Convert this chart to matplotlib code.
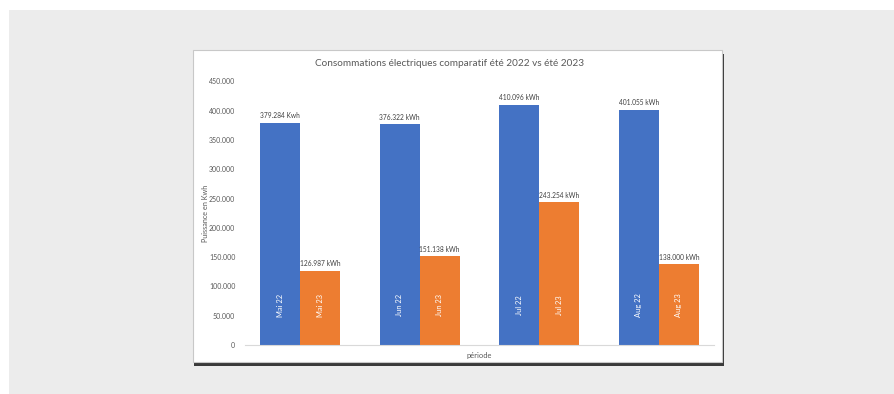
import numpy as np
import matplotlib
matplotlib.use("Agg")
import matplotlib.pyplot as plt
from matplotlib.patches import Rectangle

plt.rcParams['font.family'] = ['Lato', 'DejaVu Sans']

# data
months = ["Mai", "Jun", "Jul", "Aug"]
conso_2022 = [379284, 376322, 410096, 401055]
conso_2023 = [126987, 151138, 243254, 138000]
labels_2022 = ["379.284 Kwh", "376.322 kWh", "410.096 kWh", "401.055 kWh"]
labels_2023 = ["126.987 kWh", "151.138 kWh", "243.254 kWh", "138.000 kWh"]
yticks = [0, 50000, 100000, 150000, 200000, 250000, 300000, 350000, 400000, 450000]
ytick_labels = ["0", "50.000", "100.000", "150.000", "200.000", "250.000",
                "300.000", "350.000", "400.000", "450.000"]

W, H = 894, 394
fig = plt.figure(figsize=(W / 100, H / 100), dpi=100, facecolor="white")

# grey page background
fig.patches.append(Rectangle((9 / W, 0), 1, 1 - 10 / H, transform=fig.transFigure,
                             facecolor="#ececec", edgecolor="none", zorder=0))
# card shadow
fig.patches.append(Rectangle((194 / W, (H - 366) / H), 530 / W, 312 / H,
                             transform=fig.transFigure, facecolor="#3a3a3a",
                             edgecolor="none", zorder=1))
# white card
fig.patches.append(Rectangle((193 / W, (H - 362) / H), 529 / W, 312 / H,
                             transform=fig.transFigure, facecolor="white",
                             edgecolor="#c8c8c8", linewidth=0.8, zorder=2))

ax = fig.add_axes([245 / W, 49 / H, 469 / W, 263.7 / H], zorder=3)
ax.set_facecolor("none")

x = np.arange(len(months))
w = 0.334
blue = "#4472C4"
orange = "#ED7D31"

ax.bar(x - w / 2, conso_2022, w, color=blue, edgecolor="none")
ax.bar(x + w / 2, conso_2023, w, color=orange, edgecolor="none")

for i in range(len(months)):
    ax.text(x[i] - w / 2, conso_2022[i] + 6000, labels_2022[i], ha="center", va="bottom",
            fontsize=4.8, color="#404040")
    ax.text(x[i] + w / 2, conso_2023[i] + 6000, labels_2023[i], ha="center", va="bottom",
            fontsize=4.8, color="#404040")
    ax.text(x[i] - w / 2, 68000, f"{months[i]} 22", rotation=90, ha="center",
            va="center", fontsize=5.4, color="white")
    ax.text(x[i] + w / 2, 68000, f"{months[i]} 23", rotation=90, ha="center",
            va="center", fontsize=5.4, color="white")

ax.set_xlim(-0.46, 3.46)
ax.set_ylim(0, 450000)
ax.set_yticks(yticks)
ax.set_yticklabels(ytick_labels)
ax.tick_params(axis="y", length=0, labelsize=5.0, labelcolor="#595959", pad=7)
ax.set_xticks([])

for s in ["top", "right", "left"]:
    ax.spines[s].set_visible(False)
ax.spines["bottom"].set_color("#d9d9d9")
ax.spines["bottom"].set_linewidth(0.8)

ax.set_ylabel("Puissance en Kwh", fontsize=5.2, color="#595959")
ax.yaxis.set_label_coords(-0.076, 0.5)
ax.set_xlabel("période", fontsize=5.4, color="#595959", labelpad=5)

fig.text(449 / W, (H - 63) / H, "Consommations électriques comparatif été 2022 vs été 2023",
         ha="center", va="center", fontsize=7.2, color="#595959", zorder=5)

fig.savefig("out.png", dpi=100, facecolor=fig.get_facecolor())
